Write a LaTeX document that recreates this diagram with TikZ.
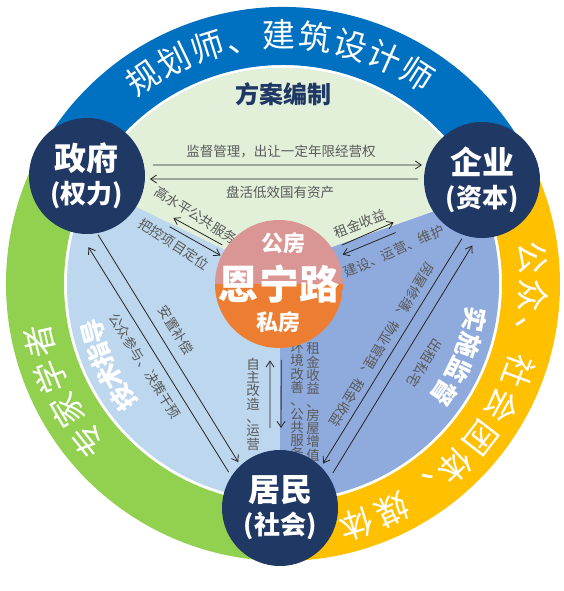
\documentclass[tikz,border=0pt]{standalone}
\usepackage{fontspec}
\setmainfont{Noto Sans CJK SC}
\usepackage{xcolor}
\usepackage{tikz}
\usetikzlibrary{positioning,calc,arrows.meta,backgrounds}

\definecolor{ringblue}{HTML}{0070C0}
\definecolor{ringgreen}{HTML}{92D050}
\definecolor{ringyellow}{HTML}{FFC000}
\definecolor{sectgreen}{HTML}{E2F0D9}
\definecolor{sectblue}{HTML}{BDD7EE}
\definecolor{sectmid}{HTML}{8FAADC}
\definecolor{navy}{HTML}{203864}
\definecolor{corepink}{HTML}{D99694}
\definecolor{coreorange}{HTML}{ED7D31}
\definecolor{labelgray}{HTML}{595959}

\begin{document}
\begin{tikzpicture}[x=1pt, y=1pt,
		actor/.style={
			circle, fill=navy, text=white, minimum size=116pt,
			inner sep=0pt, outer sep=0pt, align=center,
			font=\bfseries\fontsize{32}{33}\selectfont
		},
		core/.style={
			circle, minimum size=128pt, inner sep=0pt, outer sep=0pt,
			text=white, font=\bfseries\fontsize{40}{40}\selectfont,
			path picture={
				\fill[corepink] (path picture bounding box.north west) rectangle (path picture bounding box.east);
				\fill[coreorange] (path picture bounding box.west) rectangle (path picture bounding box.south east);
			}
		},
		coretxt/.style={text=white, inner sep=0pt, font=\bfseries\fontsize{22}{22}\selectfont},
		ringchar/.style={text=white, inner sep=0pt, text height=27.7pt, text depth=2.6pt,
			font=\fontsize{33}{33}\selectfont},
		innerchar/.style={text=white, inner sep=0pt, text height=21pt, text depth=2pt,
			font=\bfseries\fontsize{25}{25}\selectfont},
		arr/.style={draw=black!85, line width=0.8pt, -{Straight Barb[length=6pt,width=8pt]}},
		lbl/.style={text=labelgray, inner sep=0pt, font=\fontsize{13.5}{13.5}\selectfont},
		vlbl/.style={lbl, align=center, font=\fontsize{13.5}{13.3}\selectfont}
		]
		
		\useasboundingbox (-283,-307) rectangle (280,284);
		
		\begin{scope}[on background layer]
			% --- outer ring ---
			\fill[ringblue] (22:277) arc[start angle=22, end angle=146, radius=277] -- (146:219) arc[start angle=146, end angle=22, radius=219] -- cycle;
			\fill[ringgreen] (146:277) arc[start angle=146, end angle=270, radius=277] -- (270:219) arc[start angle=270, end angle=146, radius=219] -- cycle;
			\fill[ringyellow] (270:277) arc[start angle=270, end angle=382, radius=277] -- (22:219) arc[start angle=382, end angle=270, radius=219] -- cycle;
			
			% --- inner sectors ---
			\fill[sectblue] (0,0) circle[radius=216];
			\begin{scope}
				\clip (0,0) circle[radius=216];
				\fill[sectgreen] (-333,167) -- (-16,14) -- (380,153) -- (380,300) -- (-333,300) -- cycle;
				\fill[sectmid] (-16,14) -- (380,153) -- (380,-300) -- (-3,-300) -- (-3,7) -- cycle;
			\end{scope}
			
			% --- top ring: planners ---
			\node[ringchar, rotate=34.3] (rt1) at (124.3:249) {规};
			\node[ringchar, rotate=25.9] (rt2) at (115.9:249) {划};
			\node[ringchar, rotate=17.6] (rt3) at (107.6:249) {师};
			\node[ringchar, rotate=9.2] (rt4) at (99.2:249) {、};
			\node[ringchar, rotate=0.9] (rt5) at (90.9:249) {建};
			\node[ringchar, rotate=-7.5] (rt6) at (82.5:249) {筑};
			\node[ringchar, rotate=-15.9] (rt7) at (74.1:249) {设};
			\node[ringchar, rotate=-24.2] (rt8) at (65.8:249) {计};
			\node[ringchar, rotate=-32.6] (rt9) at (57.4:249) {师};
			
			% --- right ring: public ---
			\node[ringchar, rotate=-83.9] (rr1) at (6.1:251) {公};
			\node[ringchar, rotate=-92.7] (rr2) at (-2.7:251) {众};
			\node[ringchar, rotate=-101.5] (rr3) at (-11.5:251) {、};
			\node[ringchar, rotate=-110.3] (rr4) at (-20.3:251) {社};
			\node[ringchar, rotate=-119.1] (rr5) at (-29.1:251) {会};
			\node[ringchar, rotate=-127.8] (rr6) at (-37.8:251) {团};
			\node[ringchar, rotate=-136.6] (rr7) at (-46.6:251) {体};
			\node[ringchar, rotate=-145.4] (rr8) at (-55.4:251) {、};
			\node[ringchar, rotate=-154.2] (rr9) at (-64.2:251) {媒};
			\node[ringchar, rotate=-163] (rr10) at (-73:251) {体};
			
			% --- left ring: experts ---
			\node[ringchar, rotate=128.8] (rl1) at (218.8:250) {专};
			\node[ringchar, rotate=120.3] (rl2) at (210.3:250) {家};
			\node[ringchar, rotate=111.7] (rl3) at (201.7:250) {学};
			\node[ringchar, rotate=103.2] (rl4) at (193.2:250) {者};
			
			% --- inner edge words ---
			\node[innerchar, rotate=125.5] (il1) at (215.5:196) {技};
			\node[innerchar, rotate=118.4] (il2) at (208.4:196) {术};
			\node[innerchar, rotate=111.3] (il3) at (201.3:196) {指};
			\node[innerchar, rotate=104.2] (il4) at (194.2:196) {导};
			\node[innerchar, rotate=-100.4] (ir1) at (-10.4:195) {实};
			\node[innerchar, rotate=-108.2] (ir2) at (-18.2:195) {施};
			\node[innerchar, rotate=-116.1] (ir3) at (-26.1:195) {监};
			\node[innerchar, rotate=-123.9] (ir4) at (-33.9:195) {督};
			\node[text=navy, font=\bfseries\fontsize{24}{24}\selectfont] (plan) at (0,190) {方案编制};
			
			% --- arrow labels ---
			\node[lbl] (supv) at (-2,132) {监督管理，出让一定年限经营权};
			\node[lbl] (asset) at (-3,92) {盘活低效国有资产};
			\node[lbl, rotate=-32] (pubsvc) at (-87,69) {高水平公共服务};
			\node[lbl, rotate=-33] (posit) at (-109,40) {把控项目定位};
			\node[lbl, rotate=21] (rent) at (77,60) {租金收益};
			\node[lbl, rotate=24] (build) at (111,33) {建设、运营、维护};
			\node[vlbl] (selfop) at (-30,-120) {自\\主\\改\\造\\、\\运\\营};
			\node[vlbl] (envir) at (14,-117) {环\\境\\改\\善\\、\\公\\共\\服\\务};
			\node[vlbl] (gain) at (30,-118) {租\\金\\收\\益\\、\\房\\屋\\增\\值};
			\node[lbl, rotate=-58] (resettle) at (-107,-46) {安置补偿};
			\node[lbl, rotate=-58] (partic) at (-138,-82) {公众参与、决策干预};
			\node[lbl, rotate=-121] (maint) at (99,-61) {房屋修缮、物业管理、租金收益};
			\node[lbl, rotate=-122] (lease) at (142,-79) {出租私宅};
		\end{scope}
		
		% --- actors ---
		\node[actor] (gov) at (-196,108) {政府\\{\fontsize{26}{26}\selectfont(权力)}};
		\node[actor] (ent) at (199,104) {企业\\{\fontsize{26}{26}\selectfont(资本)}};
		\node[actor] (res) at (-3,-224) {居民\\{\fontsize{26}{26}\selectfont(社会)}};
		
		% --- project ---
		\node[core] (core) at (-4,0) {恩宁路};
		\node[coretxt] (pub) at ([shift={(4,41)}]core.center) {公房};
		\node[coretxt] (priv) at ([shift={(-1,-38)}]core.center) {私房};
		
		% --- relations ---
		\draw[arr, shorten <=9pt, shorten >=4pt] (gov.11) -- (ent.165);
		\draw[arr, shorten <=6pt, shorten >=5pt] (ent.179) -- (gov.-3);
		\draw[arr, shorten <=5pt, shorten >=38pt] (core.145) -- (gov.-24);
		\draw[arr, shorten <=39pt, shorten >=1pt] (gov.-33) -- (core.154);
		\draw[arr, shorten <=10pt, shorten >=40pt] (core.33) -- (ent.207);
		\draw[arr, shorten <=44pt, shorten >=6pt] (ent.218) -- (core.25);
		\draw[arr, shorten <=23pt, shorten >=13pt] (res.100) -- (core.262);
		\draw[arr, shorten <=12pt, shorten >=22pt] (core.272) -- (res.89);
		\draw[arr, shorten <=5pt, shorten >=16pt] (res.147) -- (gov.263);
		\draw[arr, shorten <=2pt, shorten >=4pt] (gov.-80) -- (res.133);
		\draw[arr, shorten <=4pt, shorten >=4pt] (ent.252) -- (res.45);
		\draw[arr, shorten <=6pt, shorten >=9pt] (res.31) -- (ent.265);
		
	\end{tikzpicture}
\end{document}
